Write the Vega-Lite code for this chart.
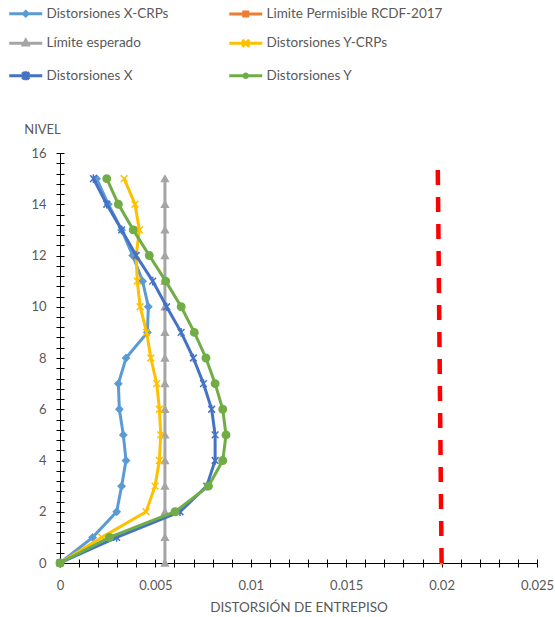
{
  "$schema": "https://vega.github.io/schema/vega-lite/v6.json",
  "width": 477,
  "height": 410,
  "autosize": {"type": "none"},
  "padding": {"left": 60, "top": 153, "right": 18, "bottom": 54},
  "background": "white",
  "config": {"font": "Lato", "view": {"stroke": null}, "axis": {"grid": false}},
  "datasets": {
    "series": [
      {"serie": "Distorsiones X-CRPs", "nivel": 0, "distorsion": 0},
      {"serie": "Distorsiones X-CRPs", "nivel": 1, "distorsion": 0.00171},
      {"serie": "Distorsiones X-CRPs", "nivel": 2, "distorsion": 0.00297},
      {"serie": "Distorsiones X-CRPs", "nivel": 3, "distorsion": 0.00323},
      {"serie": "Distorsiones X-CRPs", "nivel": 4, "distorsion": 0.00346},
      {"serie": "Distorsiones X-CRPs", "nivel": 5, "distorsion": 0.00332},
      {"serie": "Distorsiones X-CRPs", "nivel": 6, "distorsion": 0.00311},
      {"serie": "Distorsiones X-CRPs", "nivel": 7, "distorsion": 0.00306},
      {"serie": "Distorsiones X-CRPs", "nivel": 8, "distorsion": 0.00346},
      {"serie": "Distorsiones X-CRPs", "nivel": 9, "distorsion": 0.00458},
      {"serie": "Distorsiones X-CRPs", "nivel": 10, "distorsion": 0.00463},
      {"serie": "Distorsiones X-CRPs", "nivel": 11, "distorsion": 0.00433},
      {"serie": "Distorsiones X-CRPs", "nivel": 12, "distorsion": 0.00381},
      {"serie": "Distorsiones X-CRPs", "nivel": 13, "distorsion": 0.00323},
      {"serie": "Distorsiones X-CRPs", "nivel": 14, "distorsion": 0.00253},
      {"serie": "Distorsiones X-CRPs", "nivel": 15, "distorsion": 0.00192},
      {"serie": "Limite Permisible RCDF-2017", "nivel": 0, "distorsion": 0.02},
      {"serie": "Límite esperado", "nivel": 0, "distorsion": 0.0055},
      {"serie": "Límite esperado", "nivel": 1, "distorsion": 0.0055},
      {"serie": "Límite esperado", "nivel": 2, "distorsion": 0.0055},
      {"serie": "Límite esperado", "nivel": 3, "distorsion": 0.0055},
      {"serie": "Límite esperado", "nivel": 4, "distorsion": 0.0055},
      {"serie": "Límite esperado", "nivel": 5, "distorsion": 0.0055},
      {"serie": "Límite esperado", "nivel": 6, "distorsion": 0.0055},
      {"serie": "Límite esperado", "nivel": 7, "distorsion": 0.0055},
      {"serie": "Límite esperado", "nivel": 8, "distorsion": 0.0055},
      {"serie": "Límite esperado", "nivel": 9, "distorsion": 0.0055},
      {"serie": "Límite esperado", "nivel": 10, "distorsion": 0.0055},
      {"serie": "Límite esperado", "nivel": 11, "distorsion": 0.0055},
      {"serie": "Límite esperado", "nivel": 12, "distorsion": 0.0055},
      {"serie": "Límite esperado", "nivel": 13, "distorsion": 0.0055},
      {"serie": "Límite esperado", "nivel": 14, "distorsion": 0.0055},
      {"serie": "Límite esperado", "nivel": 15, "distorsion": 0.0055},
      {"serie": "Distorsiones Y-CRPs", "nivel": 0, "distorsion": 0},
      {"serie": "Distorsiones Y-CRPs", "nivel": 1, "distorsion": 0.00219},
      {"serie": "Distorsiones Y-CRPs", "nivel": 2, "distorsion": 0.00451},
      {"serie": "Distorsiones Y-CRPs", "nivel": 3, "distorsion": 0.00498},
      {"serie": "Distorsiones Y-CRPs", "nivel": 4, "distorsion": 0.00521},
      {"serie": "Distorsiones Y-CRPs", "nivel": 5, "distorsion": 0.00528},
      {"serie": "Distorsiones Y-CRPs", "nivel": 6, "distorsion": 0.00521},
      {"serie": "Distorsiones Y-CRPs", "nivel": 7, "distorsion": 0.00507},
      {"serie": "Distorsiones Y-CRPs", "nivel": 8, "distorsion": 0.00476},
      {"serie": "Distorsiones Y-CRPs", "nivel": 9, "distorsion": 0.00454},
      {"serie": "Distorsiones Y-CRPs", "nivel": 10, "distorsion": 0.0042},
      {"serie": "Distorsiones Y-CRPs", "nivel": 11, "distorsion": 0.00405},
      {"serie": "Distorsiones Y-CRPs", "nivel": 12, "distorsion": 0.00399},
      {"serie": "Distorsiones Y-CRPs", "nivel": 13, "distorsion": 0.00416},
      {"serie": "Distorsiones Y-CRPs", "nivel": 14, "distorsion": 0.00393},
      {"serie": "Distorsiones Y-CRPs", "nivel": 15, "distorsion": 0.00336},
      {"serie": "Distorsiones X", "nivel": 0, "distorsion": 0},
      {"serie": "Distorsiones X", "nivel": 1, "distorsion": 0.00297},
      {"serie": "Distorsiones X", "nivel": 2, "distorsion": 0.00629},
      {"serie": "Distorsiones X", "nivel": 3, "distorsion": 0.00769},
      {"serie": "Distorsiones X", "nivel": 4, "distorsion": 0.00813},
      {"serie": "Distorsiones X", "nivel": 5, "distorsion": 0.00813},
      {"serie": "Distorsiones X", "nivel": 6, "distorsion": 0.00795},
      {"serie": "Distorsiones X", "nivel": 7, "distorsion": 0.00752},
      {"serie": "Distorsiones X", "nivel": 8, "distorsion": 0.00699},
      {"serie": "Distorsiones X", "nivel": 9, "distorsion": 0.00635},
      {"serie": "Distorsiones X", "nivel": 10, "distorsion": 0.00559},
      {"serie": "Distorsiones X", "nivel": 11, "distorsion": 0.00486},
      {"serie": "Distorsiones X", "nivel": 12, "distorsion": 0.00399},
      {"serie": "Distorsiones X", "nivel": 13, "distorsion": 0.00323},
      {"serie": "Distorsiones X", "nivel": 14, "distorsion": 0.00245},
      {"serie": "Distorsiones X", "nivel": 15, "distorsion": 0.00175},
      {"serie": "Distorsiones Y", "nivel": 0, "distorsion": 0},
      {"serie": "Distorsiones Y", "nivel": 1, "distorsion": 0.00259},
      {"serie": "Distorsiones Y", "nivel": 2, "distorsion": 0.00603},
      {"serie": "Distorsiones Y", "nivel": 3, "distorsion": 0.00778},
      {"serie": "Distorsiones Y", "nivel": 4, "distorsion": 0.00853},
      {"serie": "Distorsiones Y", "nivel": 5, "distorsion": 0.0087},
      {"serie": "Distorsiones Y", "nivel": 6, "distorsion": 0.00853},
      {"serie": "Distorsiones Y", "nivel": 7, "distorsion": 0.00813},
      {"serie": "Distorsiones Y", "nivel": 8, "distorsion": 0.00765},
      {"serie": "Distorsiones Y", "nivel": 9, "distorsion": 0.00704},
      {"serie": "Distorsiones Y", "nivel": 10, "distorsion": 0.00635},
      {"serie": "Distorsiones Y", "nivel": 11, "distorsion": 0.00554},
      {"serie": "Distorsiones Y", "nivel": 12, "distorsion": 0.00468},
      {"serie": "Distorsiones Y", "nivel": 13, "distorsion": 0.00384},
      {"serie": "Distorsiones Y", "nivel": 14, "distorsion": 0.00306},
      {"serie": "Distorsiones Y", "nivel": 15, "distorsion": 0.00245}
    ],
    "rcdf": [
      {"nivel": 0, "distorsion": 0.02},
      {"nivel": 15.4, "distorsion": 0.0198}
    ]
  },
  "layer": [
    {
      "data": {"name": "series"},
      "transform": [{"filter": "datum.serie === 'Distorsiones X-CRPs'"}],
      "mark": {"type": "line", "color": "#5B9BD5", "strokeWidth": 3,
        "point": {"shape": "diamond", "size": 45, "filled": true, "color": "#5B9BD5", "stroke": "#5B9BD5", "strokeWidth": 1.5, "opacity": 1}},
      "encoding": {
        "x": {
          "field": "distorsion", "type": "quantitative",
          "scale": {"domain": [0, 0.025], "nice": false},
          "axis": {
            "orient": "bottom",
            "values": [0,0.001,0.002,0.003,0.004,0.005,0.006,0.007,0.008,0.009,0.01,0.011,0.012,0.013,0.014,0.015,0.016,0.017,0.018,0.019,0.02,0.021,0.022,0.023,0.024,0.025],
            "labelExpr": "abs(datum.value*200 - round(datum.value*200)) < 0.000001 ? format(datum.value, '~g') : ''",
            "tickSize": 4, "tickColor": "#000000", "domainColor": "#000000",
            "labelColor": "#595959", "labelFontSize": 13, "labelPadding": 12, "labelFlush": false,
            "title": "DISTORSIÓN DE ENTREPISO", "titleFontSize": 13.5, "titleFontWeight": "normal",
            "titleColor": "#595959", "titlePadding": 8
          }
        },
        "y": {
          "field": "nivel", "type": "quantitative",
          "scale": {"domain": [0, 16], "nice": false},
          "axis": {
            "orient": "left",
            "values": [0,0.4,0.8,1.2,1.6,2,2.4,2.8,3.2,3.6,4,4.4,4.8,5.2,5.6,6,6.4,6.8,7.2,7.6,8,8.4,8.8,9.2,9.6,10,10.4,10.8,11.2,11.6,12,12.4,12.8,13.2,13.6,14,14.4,14.8,15.2,15.6,16],
            "labelExpr": "abs(datum.value/2 - round(datum.value/2)) < 0.000001 ? format(datum.value, 'd') : ''",
            "tickSize": 4, "tickColor": "#000000", "domainColor": "#000000",
            "labelColor": "#595959", "labelFontSize": 13, "labelPadding": 10, "labelFlush": false,
            "title": "NIVEL", "titleAngle": 0, "titleX": -18, "titleY": -24,
            "titleAlign": "center", "titleBaseline": "middle",
            "titleFontSize": 13, "titleFontWeight": "normal", "titleColor": "#595959"
          }
        },
        "order": {"field": "nivel", "type": "quantitative"}
      }
    },
    {
      "data": {"name": "series"},
      "transform": [{"filter": "datum.serie === 'Limite Permisible RCDF-2017'"}],
      "mark": {"type": "point", "shape": "square", "size": 10, "filled": true, "color": "#ED7D31", "opacity": 1},
      "encoding": {
        "x": {
          "field": "distorsion", "type": "quantitative",
          "axis": {
            "orient": "bottom",
            "values": [0,0.001,0.002,0.003,0.004,0.005,0.006,0.007,0.008,0.009,0.01,0.011,0.012,0.013,0.014,0.015,0.016,0.017,0.018,0.019,0.02,0.021,0.022,0.023,0.024,0.025],
            "tickSize": -4, "tickColor": "#000000", "labels": false, "domain": false, "title": null
          }
        },
        "y": {
          "field": "nivel", "type": "quantitative",
          "axis": {
            "orient": "left",
            "values": [0,0.4,0.8,1.2,1.6,2,2.4,2.8,3.2,3.6,4,4.4,4.8,5.2,5.6,6,6.4,6.8,7.2,7.6,8,8.4,8.8,9.2,9.6,10,10.4,10.8,11.2,11.6,12,12.4,12.8,13.2,13.6,14,14.4,14.8,15.2,15.6,16],
            "tickSize": -4, "tickColor": "#000000", "labels": false, "domain": false, "title": null
          }
        }
      }
    },
    {
      "data": {"name": "series"},
      "transform": [{"filter": "datum.serie === 'Límite esperado'"}],
      "mark": {"type": "line", "color": "#A5A5A5", "strokeWidth": 3,
        "point": {"shape": "triangle-up", "size": 45, "filled": true, "color": "#A5A5A5", "stroke": "#A5A5A5", "strokeWidth": 1.5, "opacity": 1}},
      "encoding": {
        "x": {"field": "distorsion", "type": "quantitative", "axis": null},
        "y": {"field": "nivel", "type": "quantitative", "axis": null},
        "order": {"field": "nivel", "type": "quantitative"}
      }
    },
    {
      "data": {"name": "series"},
      "transform": [{"filter": "datum.serie === 'Distorsiones Y-CRPs'"}],
      "mark": {"type": "line", "color": "#FFC000", "strokeWidth": 3,
        "point": {"shape": "M-1,-1L1,1M-1,1L1,-1", "size": 45, "filled": true, "color": "#FFC000", "stroke": "#FFC000", "strokeWidth": 1.5, "opacity": 1}},
      "encoding": {
        "x": {"field": "distorsion", "type": "quantitative", "axis": null},
        "y": {"field": "nivel", "type": "quantitative", "axis": null},
        "order": {"field": "nivel", "type": "quantitative"}
      }
    },
    {
      "data": {"name": "series"},
      "transform": [{"filter": "datum.serie === 'Distorsiones X'"}],
      "mark": {"type": "line", "color": "#4472C4", "strokeWidth": 3,
        "point": {"shape": "M-1,-1L1,1M-1,1L1,-1M0,-1.3V1.3", "size": 45, "filled": true, "color": "#4472C4", "stroke": "#4472C4", "strokeWidth": 1.5, "opacity": 1}},
      "encoding": {
        "x": {"field": "distorsion", "type": "quantitative", "axis": null},
        "y": {"field": "nivel", "type": "quantitative", "axis": null},
        "order": {"field": "nivel", "type": "quantitative"}
      }
    },
    {
      "data": {"name": "series"},
      "transform": [{"filter": "datum.serie === 'Distorsiones Y'"}],
      "mark": {"type": "line", "color": "#70AD47", "strokeWidth": 3,
        "point": {"shape": "circle", "size": 55, "filled": true, "color": "#70AD47", "stroke": "#70AD47", "strokeWidth": 1.5, "opacity": 1}},
      "encoding": {
        "x": {"field": "distorsion", "type": "quantitative", "axis": null},
        "y": {"field": "nivel", "type": "quantitative", "axis": null},
        "order": {"field": "nivel", "type": "quantitative"}
      }
    },
    {
      "data": {"name": "rcdf"},
      "mark": {"type": "line", "color": "#FF0000", "strokeWidth": 4.5, "strokeDash": [15, 12]},
      "encoding": {
        "x": {"field": "distorsion", "type": "quantitative", "axis": null},
        "y": {"field": "nivel", "type": "quantitative", "axis": null},
        "order": {"field": "nivel", "type": "quantitative"}
      }
    },
    {
      "data": {"name": "series"},
      "transform": [{"filter": "false"}],
      "mark": {"type": "point", "filled": false, "opacity": 1, "strokeWidth": 3},
      "encoding": {
        "x": {"field": "distorsion", "type": "quantitative", "axis": null},
        "y": {"field": "nivel", "type": "quantitative", "axis": null},
        "color": {
          "field": "serie", "type": "nominal",
          "scale": {
            "domain": ["Distorsiones X-CRPs", "Limite Permisible RCDF-2017", "Límite esperado", "Distorsiones Y-CRPs", "Distorsiones X", "Distorsiones Y"],
            "range": ["#5B9BD5", "#ED7D31", "#A5A5A5", "#FFC000", "#4472C4", "#70AD47"]
          },
          "legend": {
            "orient": "none", "legendX": -57, "legendY": -146,
            "columns": 2, "direction": "horizontal", "title": null,
            "labelFontSize": 13.5, "labelColor": "#595959", "labelLimit": 400,
            "symbolSize": 100, "symbolStrokeWidth": 3, "rowPadding": 11.5, "columnPadding": 54,
            "symbolOffset": 16, "labelOffset": 14
          }
        },
        "shape": {
          "field": "serie", "type": "nominal",
          "scale": {
            "domain": ["Distorsiones X-CRPs", "Limite Permisible RCDF-2017", "Límite esperado", "Distorsiones Y-CRPs", "Distorsiones X", "Distorsiones Y"],
            "range": [
              "M-3.3,0H3.3M0,-0.45L0.45,0L0,0.45L-0.45,0Z",
              "M-3.3,0H3.3M-0.4,-0.4H0.4V0.4H-0.4ZM-0.1,0H0.1",
              "M-3.3,0H3.3M0,-0.6L0.5,0.35H-0.5Z",
              "M-3.3,0H3.3M-0.7,-0.7L0.7,0.7M-0.7,0.7L0.7,-0.7",
              "M-3.3,0H3.3M-0.7,-0.7L0.7,0.7M-0.7,0.7L0.7,-0.7M0,-0.9V0.9",
              "M-3.3,0H3.3M0.35,0A0.35,0.35 0 1,1 -0.35,0A0.35,0.35 0 1,1 0.35,0ZM-0.1,0H0.1"
            ]
          },
          "legend": {
            "orient": "none", "legendX": -57, "legendY": -146,
            "columns": 2, "direction": "horizontal", "title": null,
            "labelFontSize": 13.5, "labelColor": "#595959", "labelLimit": 400,
            "symbolSize": 100, "symbolStrokeWidth": 3, "rowPadding": 11.5, "columnPadding": 54,
            "symbolOffset": 16, "labelOffset": 14
          }
        }
      }
    }
  ],
  "resolve": {"axis": {"x": "independent", "y": "independent"}}
}
